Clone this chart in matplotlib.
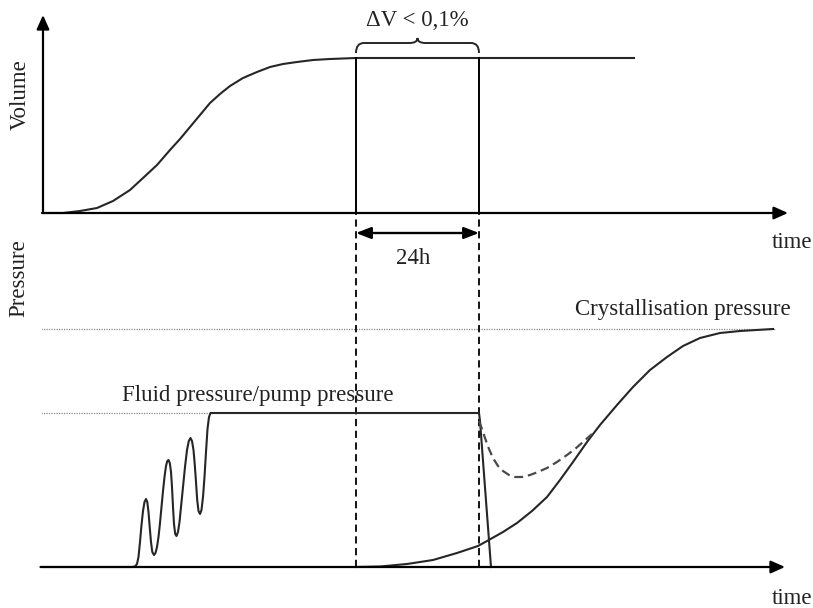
import numpy as np
import matplotlib.pyplot as plt
from matplotlib.path import Path
from matplotlib.patches import PathPatch

plt.rcParams['font.family'] = ['Liberation Serif', 'DejaVu Serif']

# time in arbitrary units, volume / pressure in arbitrary units
vol_t = [1, 21, 38, 55, 71, 88, 101, 115, 128, 138, 148, 158, 168, 178, 188,
         201, 215, 228, 241, 255, 271, 288, 314, 437, 592]
vol_v = [0, 0, 2, 5, 12, 23, 35, 48, 63, 74, 86, 98, 110, 119, 127,
         135, 141, 146, 149, 151, 153, 154, 155, 155, 155]

fluid_t = [0, 90, 93, 95, 96.5, 98, 99.5, 101, 102.5, 104, 105.3, 106.5, 107.7,
           109, 110.3, 112, 113.5, 115, 116.5, 118, 119.5, 121, 122.5, 124,
           125.3, 126.5, 127.8, 129, 130, 131, 132, 133.2, 134.5, 136, 137.5,
           139, 141, 143, 145, 146.8, 148.5, 150, 151.5, 152.8, 154, 155.2,
           156.5, 158, 159.5, 161, 162.5, 164, 165.5, 167, 168.5, 437, 438, 449]
fluid_p = [0, 0, 0.5, 3, 10, 25, 42, 56, 65, 68, 65, 55, 40,
           25, 15, 12, 14, 20, 30, 44, 60, 76, 90, 101,
           106, 107, 104, 95, 80, 60, 43, 33, 31, 35, 45,
           60, 80, 100, 117, 126, 129, 126, 117, 102, 85, 67,
           56, 53, 57, 70, 90, 115, 138, 150, 154, 154, 146, 0]

cryst_t = [313, 338, 365, 391, 415, 436, 445, 461, 475, 490, 505, 518, 531,
           545, 558, 575, 591, 608, 625, 641, 658, 678, 698, 731]
cryst_p = [0, 0.5, 3, 7, 14, 21, 26, 35, 44, 56, 70, 87, 105,
           125, 142, 162, 180, 197, 210, 221, 229, 234, 236, 238]

resid_t = [437, 440, 443, 447, 451, 456, 461, 467, 473, 480, 488, 496, 505,
           515, 525, 533, 541, 550]
resid_p = [146, 138, 129, 118, 109, 101, 96, 92, 90, 90, 92, 95, 99,
           105, 112, 118, 125, 133]

cryst_level = 238
fluid_level = 154
t_start, t_end = 314, 437   # 24 h window, volume change < 0.1 %
v_plateau = 155

W, H = 813, 608
fig = plt.figure(figsize=(W / 100, H / 100), dpi=100)
ax1 = fig.add_axes([42 / W, 1 - 213 / H, 1 - 42 / W, 213 / H])
ax2 = fig.add_axes([42 / W, 0, 1 - 42 / W, 1 - 213 / H])
ax1.set_xlim(0, W - 42)
ax1.set_ylim(0, 213)
ax2.set_xlim(0, W - 42)
ax2.set_ylim(-41, 354)
for ax in (ax1, ax2):
    ax.axis('off')

ink = '#262626'
curve = dict(color=ink, lw=1.5, clip_on=False, solid_joinstyle='round')
head = dict(arrowstyle='-|>,head_length=0.85,head_width=0.38', color='black',
            lw=1.6, shrinkA=0, shrinkB=0)
fs = 16.5

# --- volume panel
ax1.annotate('', xy=(1, 198), xytext=(1, 0), arrowprops=head)
ax1.annotate('', xy=(746, 0), xytext=(0, 0), arrowprops=head)
ax1.plot(vol_t, vol_v, **curve)
ax1.plot([t_start, t_start], [0, v_plateau], color='black', lw=1.4, clip_on=False)
ax1.plot([t_end, t_end], [0, v_plateau], color='black', lw=1.4, clip_on=False)

mid = (t_start + t_end) / 2
verts = [(t_start, 160), (t_start, 170), (t_start + 8, 170), (mid - 8, 170),
         (mid, 170), (mid, 175), (mid, 170), (mid + 8, 170), (t_end - 8, 170),
         (t_end, 170), (t_end, 160)]
codes = [Path.MOVETO, Path.CURVE3, Path.CURVE3, Path.LINETO, Path.CURVE3,
         Path.CURVE3, Path.CURVE3, Path.CURVE3, Path.LINETO, Path.CURVE3, Path.CURVE3]
ax1.add_patch(PathPatch(Path(verts, codes), fill=False, lw=1.4, edgecolor=ink,
                        clip_on=False))
ax1.text(mid - 0.5, 192, 'ΔV < 0,1%', ha='center', va='center', fontsize=fs,
         color='#222222')

# --- pressure panel
ax2.annotate('', xy=(-1.5, 334), xytext=(-1.5, 0), arrowprops=head)
ax2.annotate('', xy=(743, 0), xytext=(-1.5, 0), arrowprops=head)
ax2.plot([-1.5, 733], [cryst_level, cryst_level], color='#8a8a8a', lw=0.9,
         ls=(0, (1, 1)))
ax2.plot([-1.5, 168], [fluid_level, fluid_level], color='#8a8a8a', lw=0.9,
         ls=(0, (1, 1)))
for t in (t_start, t_end):
    ax2.plot([t, t], [0, 354], color='black', lw=1.3, ls=(0, (4, 2.5)),
             clip_on=False)
ax2.annotate('', xy=(t_start, 334), xytext=(t_end, 334),
             arrowprops=dict(arrowstyle='<|-|>,head_length=0.9,head_width=0.35',
                             color='black', lw=1.7, shrinkA=0, shrinkB=0))
ax2.text(mid - 4, 309, '24h', ha='center', va='center', fontsize=fs, color='#222222')

ax2.plot(fluid_t, fluid_p, **curve)
ax2.plot(cryst_t, cryst_p, **curve)
ax2.plot(resid_t, resid_p, color='#4a4a4a', lw=1.6, ls=(0, (4, 2.2)))

ax2.text(641, 258, 'Crystallisation pressure', ha='center', va='center',
         fontsize=fs, color='#222222')
ax2.text(216, 171, 'Fluid pressure/pump pressure', ha='center', va='center',
         fontsize=fs, color='#222222')

fig.text(20 / W, 1 - 95 / H, 'Volume', rotation=90, ha='center', va='center',
         fontsize=fs, color='#222222')
fig.text(19 / W, 1 - 278 / H, 'Pressure', rotation=90, ha='center', va='center',
         fontsize=fs, color='#222222')
fig.text(812 / W, 1 - 243 / H, 'time', ha='right', va='center', fontsize=fs,
         color='#222222')
fig.text(812 / W, 1 - 599 / H, 'time', ha='right', va='center', fontsize=fs,
         color='#222222')

fig.savefig('out.png', dpi=100)
